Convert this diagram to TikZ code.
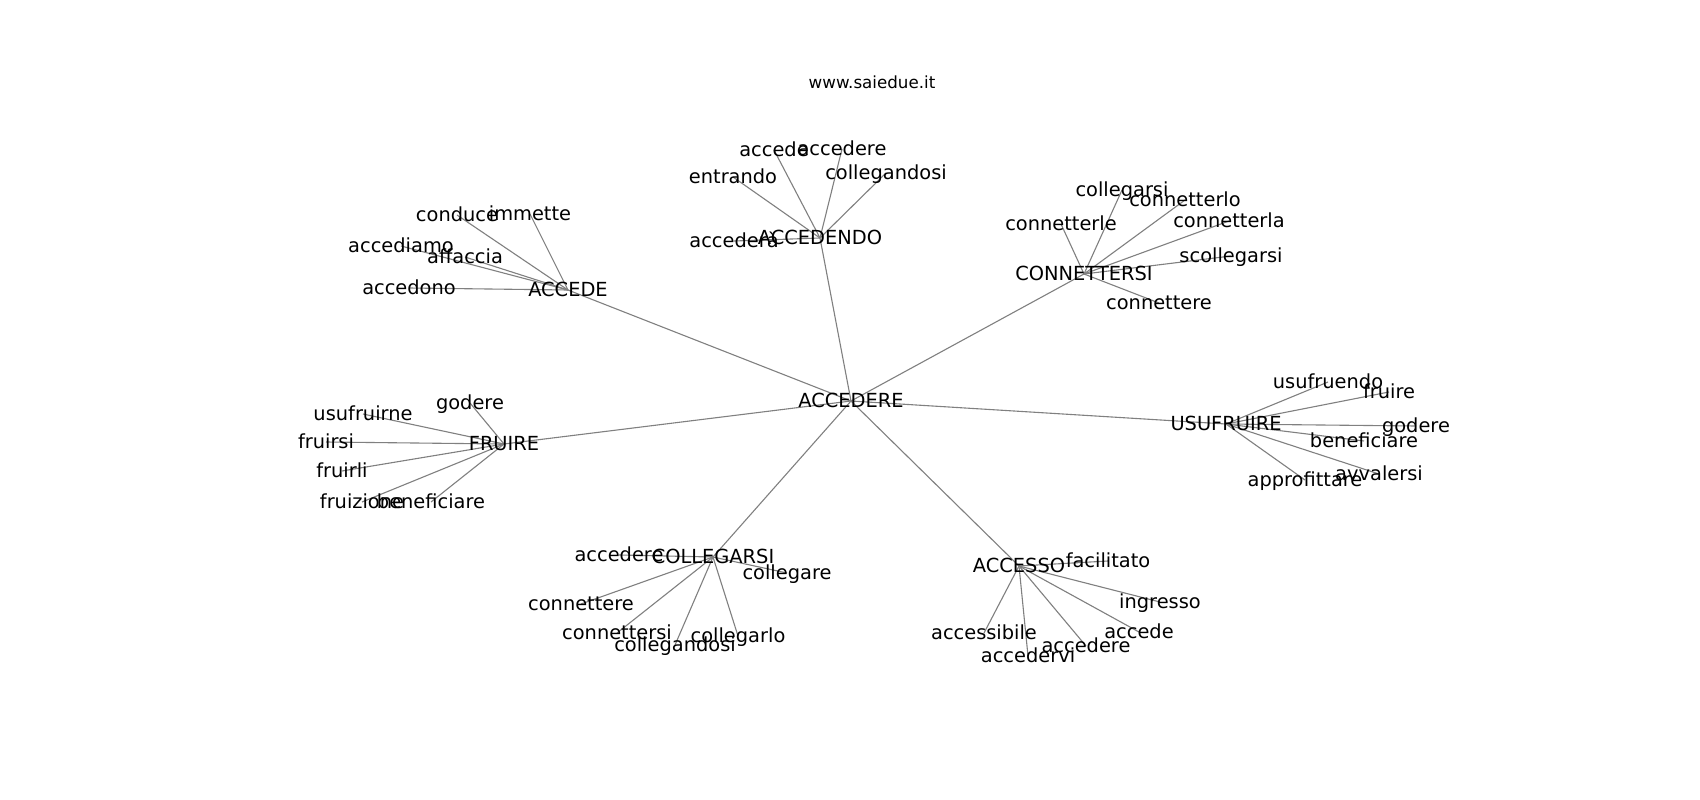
\documentclass[tikz,border=0pt]{standalone}
\usepackage{fontspec}
\setmainfont{DejaVu Sans}
\usetikzlibrary{backgrounds}
\begin{document}
\begin{tikzpicture}[x=1pt,y=-1pt,
  lbl/.style={inner sep=0pt,font=\fontsize{19.4}{23}\selectfont,text height=1.3em,text depth=0pt},
  edge/.style={draw=gray,line width=1.1pt}]
\useasboundingbox (0,0) rectangle (1700,800);
\node[inner sep=0pt,font=\fontsize{16.7}{20}\selectfont,text height=1.3em,text depth=0pt] (title) at (872,82) {www.saiedue.it};
% hubs
\node[lbl] (root) at (851,401) {ACCEDERE};
\node[lbl] (h1) at (820,238) {ACCEDENDO};
\node[lbl] (h2) at (568,290) {ACCEDE};
\node[lbl] (h3) at (1084,274) {CONNETTERSI};
\node[lbl] (h4) at (1226,424) {USUFRUIRE};
\node[lbl] (h5) at (504,444) {FRUIRE};
\node[lbl] (h6) at (713,557) {COLLEGARSI};
\node[lbl] (h7) at (1019,566) {ACCESSO};
% ACCEDENDO
\node[lbl] (a1) at (774,150) {accede};
\node[lbl] (a2) at (842,149) {accedere};
\node[lbl] (a3) at (733,177) {entrando};
\node[lbl] (a4) at (886,173) {collegandosi};
\node[lbl] (a5) at (734,241) {accederà};
% ACCEDE
\node[lbl] (b1) at (457,215) {conduce};
\node[lbl] (b2) at (530,214) {immette};
\node[lbl] (b3) at (401,246) {accediamo};
\node[lbl] (b4) at (465,257) {affaccia};
\node[lbl] (b5) at (409,288) {accedono};
% CONNETTERSI
\node[lbl] (c1) at (1122,190) {collegarsi};
\node[lbl] (c2) at (1185,200) {connetterlo};
\node[lbl] (c3) at (1061,224) {connetterle};
\node[lbl] (c4) at (1229,221) {connetterla};
\node[lbl] (c5) at (1231,256) {scollegarsi};
\node[lbl] (c6) at (1159,303) {connettere};
% USUFRUIRE
\node[lbl] (d1) at (1328,382) {usufruendo};
\node[lbl] (d2) at (1389,392) {fruire};
\node[lbl] (d3) at (1416,426) {godere};
\node[lbl] (d4) at (1364,441) {beneficiare};
\node[lbl] (d5) at (1305,480) {approfittare};
\node[lbl] (d6) at (1379,474) {avvalersi};
% FRUIRE
\node[lbl] (e1) at (470,403) {godere};
\node[lbl] (e2) at (363,414) {usufruirne};
\node[lbl] (e3) at (326,442) {fruirsi};
\node[lbl] (e4) at (342,471) {fruirli};
\node[lbl] (e5) at (362,502) {fruizione};
\node[lbl] (e6) at (431,502) {beneficiare};
% COLLEGARSI
\node[lbl] (f1) at (619,555) {accedere};
\node[lbl] (f2) at (787,573) {collegare};
\node[lbl] (f3) at (581,604) {connettere};
\node[lbl] (f4) at (617,633) {connettersi};
\node[lbl] (f5) at (675,645) {collegandosi};
\node[lbl] (f6) at (738,636) {collegarlo};
% ACCESSO
\node[lbl] (g1) at (1108,561) {facilitato};
\node[lbl] (g2) at (1160,602) {ingresso};
\node[lbl] (g3) at (984,633) {accessibile};
\node[lbl] (g4) at (1139,632) {accede};
\node[lbl] (g5) at (1086,646) {accedere};
\node[lbl] (g6) at (1028,656) {accedervi};
\begin{scope}[on background layer]
\fill[white] (0,0) rectangle (1700,800);
\foreach \h in {h1,h2,h3,h4,h5,h6,h7} \draw[edge] (root.center) -- (\h.center);
\foreach \n in {a1,a2,a3,a4,a5} \draw[edge] (h1.center) -- (\n.center);
\foreach \n in {b1,b2,b3,b4,b5} \draw[edge] (h2.center) -- (\n.center);
\foreach \n in {c1,c2,c3,c4,c5,c6} \draw[edge] (h3.center) -- (\n.center);
\foreach \n in {d1,d2,d3,d4,d5,d6} \draw[edge] (h4.center) -- (\n.center);
\foreach \n in {e1,e2,e3,e4,e5,e6} \draw[edge] (h5.center) -- (\n.center);
\foreach \n in {f1,f2,f3,f4,f5,f6} \draw[edge] (h6.center) -- (\n.center);
\foreach \n in {g1,g2,g3,g4,g5,g6} \draw[edge] (h7.center) -- (\n.center);
\end{scope}
\end{tikzpicture}
\end{document}
